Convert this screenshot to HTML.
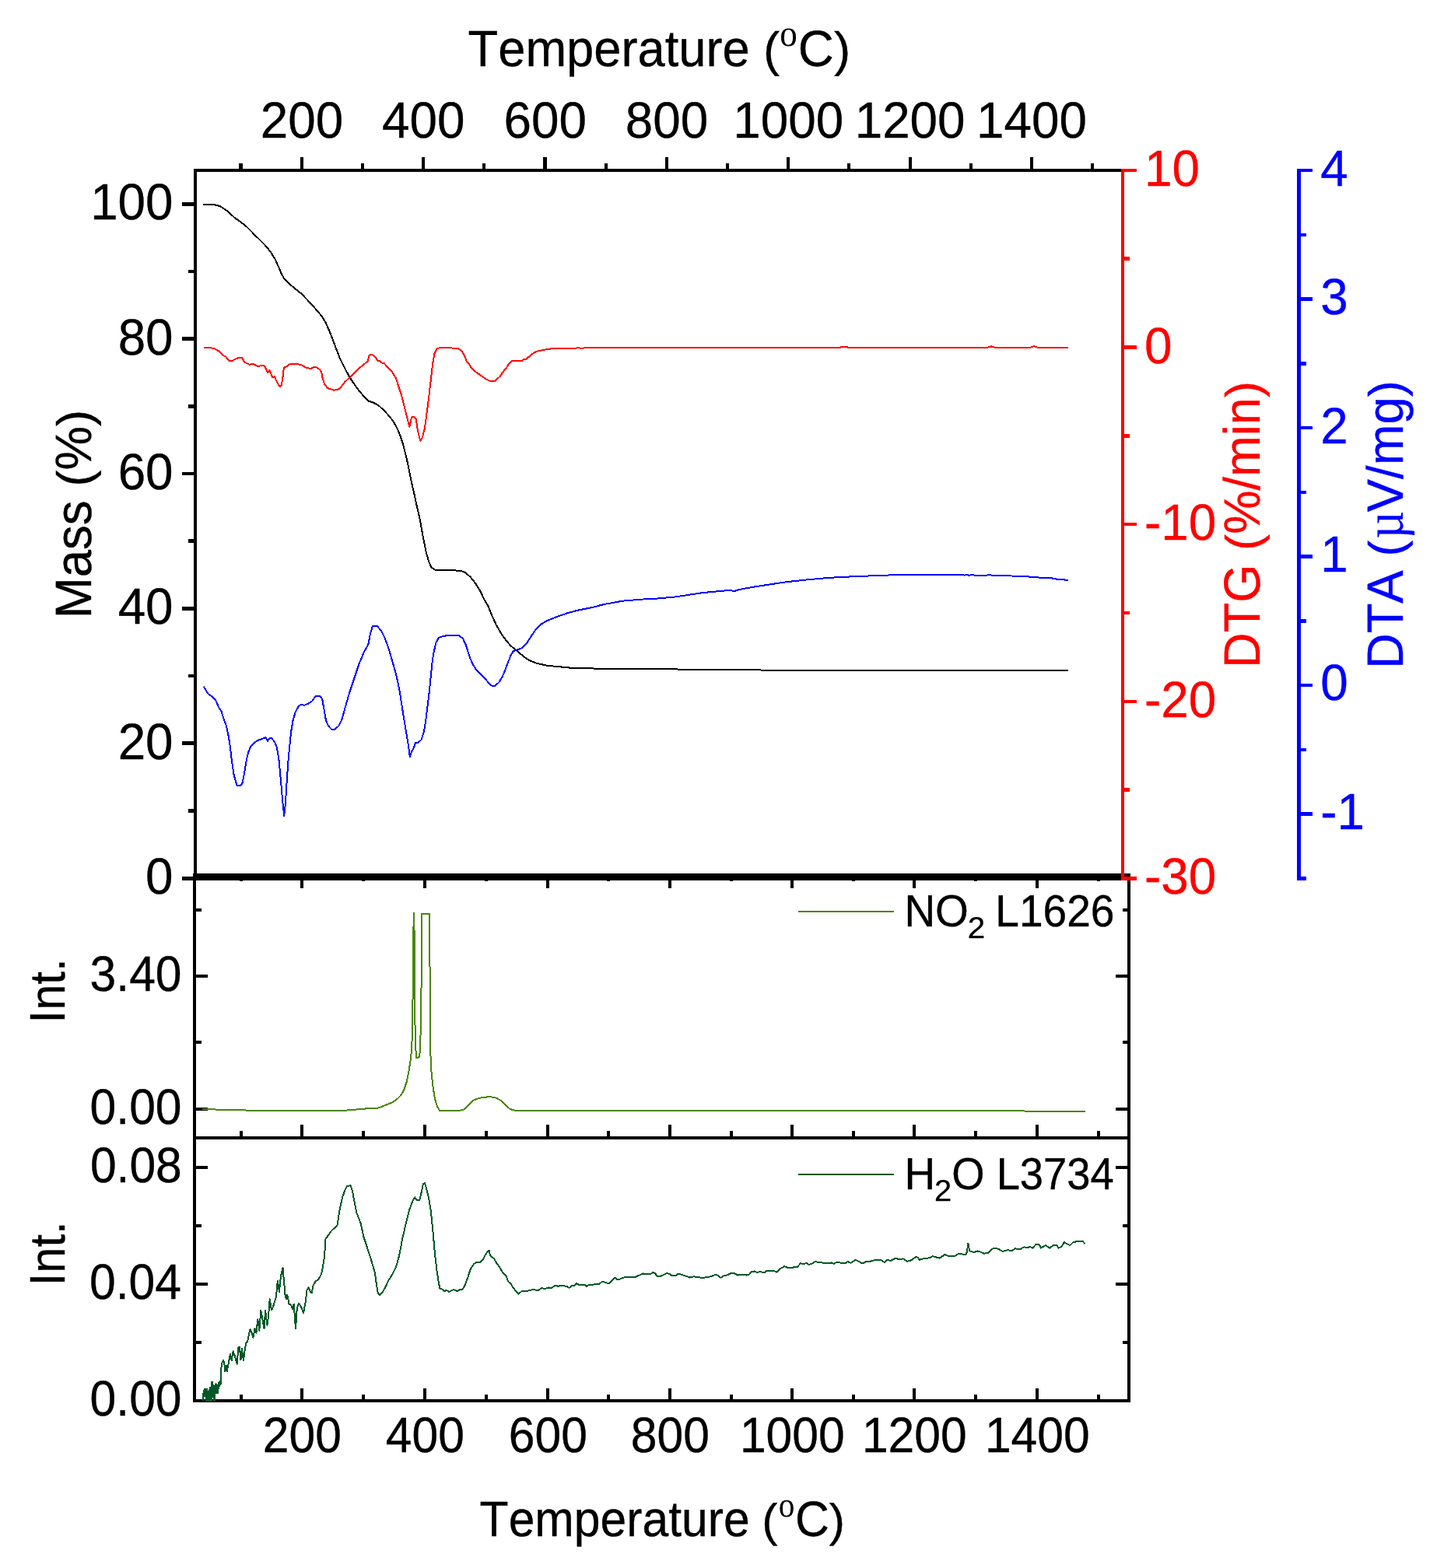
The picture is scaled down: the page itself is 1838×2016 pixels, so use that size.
<!DOCTYPE html>
<html lang="en">
<head>
<meta charset="utf-8">
<title>TG / DTG / DTA with evolved gas intensity</title>
<style>
html, body { margin: 0; padding: 0; background: #fff; }
body { width: 1838px; height: 2016px; overflow: hidden; }
svg { display: block; }
text.sf { font-family: "Liberation Serif", serif; }
text { font-family: "Liberation Sans", sans-serif; white-space: pre; font-kerning: none; font-variant-ligatures: none; text-rendering: geometricPrecision; }
</style>
</head>
<body>
<svg width="1838" height="2016" viewBox="0 0 1838 2016">
<rect x="0" y="0" width="1838" height="2016" fill="#fff"/>
<g id="axes" shape-rendering="crispEdges">
<rect x="249" y="217" width="1192" height="4" fill="#000"/>
<rect x="249" y="217" width="4" height="910" fill="#000"/>
<rect x="248" y="1123" width="1205" height="9" fill="#000"/>
<rect x="307" y="210" width="5" height="7" fill="#000"/>
<rect x="386" y="202" width="4" height="15" fill="#000"/>
<rect x="464" y="210" width="4" height="7" fill="#000"/>
<rect x="542" y="202" width="4" height="15" fill="#000"/>
<rect x="620" y="210" width="4" height="7" fill="#000"/>
<rect x="698" y="202" width="5" height="15" fill="#000"/>
<rect x="777" y="210" width="4" height="7" fill="#000"/>
<rect x="855" y="202" width="4" height="15" fill="#000"/>
<rect x="933" y="210" width="4" height="7" fill="#000"/>
<rect x="1011" y="202" width="4" height="15" fill="#000"/>
<rect x="1089" y="210" width="4" height="7" fill="#000"/>
<rect x="1168" y="202" width="4" height="15" fill="#000"/>
<rect x="1246" y="210" width="4" height="7" fill="#000"/>
<rect x="1324" y="202" width="4" height="15" fill="#000"/>
<rect x="1402" y="210" width="4" height="7" fill="#000"/>
<rect x="234" y="1127" width="15" height="5" fill="#000"/>
<rect x="242" y="1040" width="7" height="5" fill="#000"/>
<rect x="234" y="953" width="15" height="5" fill="#000"/>
<rect x="242" y="867" width="7" height="4" fill="#000"/>
<rect x="234" y="780" width="15" height="5" fill="#000"/>
<rect x="242" y="693" width="7" height="5" fill="#000"/>
<rect x="234" y="607" width="15" height="4" fill="#000"/>
<rect x="242" y="520" width="7" height="5" fill="#000"/>
<rect x="234" y="433" width="15" height="5" fill="#000"/>
<rect x="242" y="347" width="7" height="4" fill="#000"/>
<rect x="234" y="260" width="15" height="5" fill="#000"/>
<rect x="248" y="1123" width="4" height="680" fill="#000"/>
<rect x="1449" y="1123" width="4" height="680" fill="#000"/>
<rect x="248" y="1461" width="1205" height="4" fill="#000"/>
<rect x="248" y="1799" width="1205" height="4" fill="#000"/>
<rect x="308" y="1127" width="4" height="6" fill="#000"/>
<rect x="308" y="1454" width="4" height="7" fill="#000"/>
<rect x="308" y="1793" width="4" height="6" fill="#000"/>
<rect x="386" y="1127" width="4" height="15" fill="#000"/>
<rect x="386" y="1446" width="4" height="15" fill="#000"/>
<rect x="386" y="1785" width="4" height="14" fill="#000"/>
<rect x="465" y="1127" width="4" height="6" fill="#000"/>
<rect x="465" y="1454" width="4" height="7" fill="#000"/>
<rect x="465" y="1793" width="4" height="6" fill="#000"/>
<rect x="544" y="1127" width="4" height="15" fill="#000"/>
<rect x="544" y="1446" width="4" height="15" fill="#000"/>
<rect x="544" y="1785" width="4" height="14" fill="#000"/>
<rect x="623" y="1127" width="4" height="6" fill="#000"/>
<rect x="623" y="1454" width="4" height="7" fill="#000"/>
<rect x="623" y="1793" width="4" height="6" fill="#000"/>
<rect x="702" y="1127" width="4" height="15" fill="#000"/>
<rect x="702" y="1446" width="4" height="15" fill="#000"/>
<rect x="702" y="1785" width="4" height="14" fill="#000"/>
<rect x="780" y="1127" width="4" height="6" fill="#000"/>
<rect x="780" y="1454" width="4" height="7" fill="#000"/>
<rect x="780" y="1793" width="4" height="6" fill="#000"/>
<rect x="859" y="1127" width="4" height="15" fill="#000"/>
<rect x="859" y="1446" width="4" height="15" fill="#000"/>
<rect x="859" y="1785" width="4" height="14" fill="#000"/>
<rect x="938" y="1127" width="4" height="6" fill="#000"/>
<rect x="938" y="1454" width="4" height="7" fill="#000"/>
<rect x="938" y="1793" width="4" height="6" fill="#000"/>
<rect x="1016" y="1127" width="4" height="15" fill="#000"/>
<rect x="1016" y="1446" width="4" height="15" fill="#000"/>
<rect x="1016" y="1785" width="4" height="14" fill="#000"/>
<rect x="1095" y="1127" width="4" height="6" fill="#000"/>
<rect x="1095" y="1454" width="4" height="7" fill="#000"/>
<rect x="1095" y="1793" width="4" height="6" fill="#000"/>
<rect x="1173" y="1127" width="4" height="15" fill="#000"/>
<rect x="1173" y="1446" width="4" height="15" fill="#000"/>
<rect x="1173" y="1785" width="4" height="14" fill="#000"/>
<rect x="1252" y="1127" width="4" height="6" fill="#000"/>
<rect x="1252" y="1454" width="4" height="7" fill="#000"/>
<rect x="1252" y="1793" width="4" height="6" fill="#000"/>
<rect x="1331" y="1127" width="4" height="15" fill="#000"/>
<rect x="1331" y="1446" width="4" height="15" fill="#000"/>
<rect x="1331" y="1785" width="4" height="14" fill="#000"/>
<rect x="1410" y="1127" width="4" height="6" fill="#000"/>
<rect x="1410" y="1454" width="4" height="7" fill="#000"/>
<rect x="1410" y="1793" width="4" height="6" fill="#000"/>
<rect x="252" y="1168" width="7" height="4" fill="#000"/>
<rect x="1443" y="1168" width="6" height="4" fill="#000"/>
<rect x="252" y="1253" width="15" height="4" fill="#000"/>
<rect x="1434" y="1253" width="15" height="4" fill="#000"/>
<rect x="252" y="1338" width="7" height="4" fill="#000"/>
<rect x="1443" y="1338" width="6" height="4" fill="#000"/>
<rect x="252" y="1424" width="15" height="4" fill="#000"/>
<rect x="1434" y="1424" width="15" height="4" fill="#000"/>
<rect x="252" y="1499" width="15" height="4" fill="#000"/>
<rect x="1434" y="1499" width="15" height="4" fill="#000"/>
<rect x="252" y="1574" width="7" height="4" fill="#000"/>
<rect x="1443" y="1574" width="6" height="4" fill="#000"/>
<rect x="252" y="1649" width="15" height="4" fill="#000"/>
<rect x="1434" y="1649" width="15" height="4" fill="#000"/>
<rect x="252" y="1724" width="7" height="4" fill="#000"/>
<rect x="1443" y="1724" width="6" height="4" fill="#000"/>
<rect x="1441" y="217" width="4" height="915" fill="#f00"/>
<rect x="1445" y="217" width="16" height="4" fill="#f00"/>
<rect x="1445" y="330" width="7" height="5" fill="#f00"/>
<rect x="1445" y="444" width="16" height="5" fill="#f00"/>
<rect x="1445" y="558" width="7" height="5" fill="#f00"/>
<rect x="1445" y="672" width="16" height="4" fill="#f00"/>
<rect x="1445" y="786" width="7" height="4" fill="#f00"/>
<rect x="1445" y="900" width="16" height="4" fill="#f00"/>
<rect x="1445" y="1013" width="7" height="5" fill="#f00"/>
<rect x="1445" y="1127" width="16" height="5" fill="#f00"/>
<rect x="1667" y="217" width="5" height="915" fill="#00f"/>
<rect x="1672" y="217" width="15" height="4" fill="#00f"/>
<rect x="1672" y="300" width="7" height="4" fill="#00f"/>
<rect x="1672" y="382" width="15" height="5" fill="#00f"/>
<rect x="1672" y="465" width="7" height="5" fill="#00f"/>
<rect x="1672" y="548" width="15" height="4" fill="#00f"/>
<rect x="1672" y="631" width="7" height="4" fill="#00f"/>
<rect x="1672" y="713" width="15" height="5" fill="#00f"/>
<rect x="1672" y="796" width="7" height="5" fill="#00f"/>
<rect x="1672" y="879" width="15" height="4" fill="#00f"/>
<rect x="1672" y="962" width="7" height="4" fill="#00f"/>
<rect x="1672" y="1044" width="15" height="5" fill="#00f"/>
<rect x="1672" y="1127" width="7" height="5" fill="#00f"/>
<rect x="1026" y="1171" width="123" height="2" fill="#4a850a"/>
<rect x="1026" y="1509" width="123" height="2" fill="#005826"/>
</g>
<g id="curves" shape-rendering="crispEdges">
<polyline points="261.1,262.7 274.8,263.1 282.6,265 291.8,270.9 301.6,280 308.8,285 316.6,291.1 328.3,302.9 340.1,314.6 347.3,323.1 353.8,333.6 358.4,344 362.3,353.2 365.6,358.6 374.1,366.9 387.1,377.3 400.2,391 413.2,406 418.5,414.5 423.7,426.3 430.2,443.3 437.1,461.3 443.6,474.4 450.1,486.2 455.4,494 460.6,501.2 467.1,509 473.6,515.5 480.2,517.8 486.7,521.4 493.2,527.3 499.8,534.5 505,541 510.2,550.1 514.1,559.3 518,571 522,586.7 525.2,601.1 528.5,618 532.4,635 536.3,653.3 539.6,667 543.5,689.2 547.4,708.8 551.3,722.5 554.6,729.7 559.2,732.7 578.8,733.1 591.8,733.8 598.3,736.2 604.9,742.1 611.4,750.5 617.9,761 621.9,770.1 627.1,778.6 631,788.4 637.5,802.8 644.1,814.5 650.6,823.7 657.1,830.9 663.6,836.1 672.8,843.9 680.6,849.1 689.8,852.8 702.8,855.7 722.4,857.6 735.5,858.9 760,858.9 763.9,859.8 852.7,860.3 951.9,861.4 1070,861.9 1373,861.9" fill="none" stroke="#000000" stroke-width="2" stroke-linejoin="round"/>
<polyline points="261.5,446.9 269.6,446.9 276.1,448.5 282.6,452.1 285.9,456.3 289.8,458.3 295.1,463.9 298.3,464.2 302.2,461.8 306.2,460.2 311.4,460.2 314,465.5 317.9,467.4 320.5,468.7 325.7,468.1 331,470.7 339.8,470.2 342.4,475.1 344.1,479.4 346.3,476 348.3,480.3 350.2,485.5 352.9,484.2 355.5,490.1 358.1,495.3 359.8,497.2 361.6,495.9 363.3,486.2 365,472.4 369.2,471.1 372.4,468.1 382.2,468.1 387.5,469.2 392.7,472.4 396.6,473.5 400.5,473.5 403.8,472 407,472.4 411,475.1 413.2,478.3 414.9,487.5 417.5,494.6 421.4,499.2 425.3,500.3 428.6,501.6 433.2,501.2 437.1,499.2 443.6,490.7 450.1,484.8 460.6,474.4 468.4,467.9 473,464.2 474,458.1 476.3,456.1 478.9,456.5 482.8,459.4 485.4,463.7 488,464.2 491.3,466.6 493.9,467.2 498.5,472.4 503.7,477.7 508.9,486.2 512.2,496.6 516.1,508.3 519.3,521.4 522.6,534.5 526.3,548.6 527.8,542.3 529.1,536.4 531.1,535.5 534.8,539 536.3,550.1 538.9,561.9 540.6,566.9 542.8,562.5 545.5,552.7 548.1,534.5 550.7,514.9 553.3,492.7 555.9,469.2 557.9,457.4 558.5,454.6 561.8,448.1 565.7,447.2 578.1,447.4 588.5,447.8 593.1,450.7 597,457.2 600.3,465.7 602.9,467.7 606.2,473.5 610.1,477.2 617.9,482.7 624.4,487.2 630.3,490.3 636.2,489.6 642.7,484 646.6,478.1 650.5,473.5 653.8,468.3 657.7,464 662.3,464.4 671.4,463.7 673.4,462 676,462.4 678.6,458.9 680.6,458.5 683.8,455.3 689.1,452 696.3,450.4 704.1,449 712.6,447.8 740.7,447.7 743.3,446.8 745.9,447.8 751.1,447.4 790,447 900,446.8 1080,446.6 1085,445.6 1090,446.6 1270,446.5 1274,445.4 1278,446.5 1325,446.5 1329,445.2 1333,446.5 1373.5,446.6" fill="none" stroke="#ff0000" stroke-width="2" stroke-linejoin="round"/>
<polyline points="261.8,882.9 267.6,892.1 274.8,897.3 278.1,901.9 281.3,909.7 284.6,914.9 287.9,925.4 290.7,932.5 293.7,946.3 295.7,959.3 297.7,976.3 300.3,994.6 302.2,1002.4 304.8,1010.2 308.8,1010.5 311.4,1007 313.3,998.5 315.3,986.7 317.2,975 319.9,965.2 322.5,959.3 325.7,956 331,952.1 336.2,950.2 341.4,948.2 344,952.8 346.6,949.3 349.2,949.3 353.2,954.1 355.8,960.6 358.4,976.3 360.3,995.9 362.3,1019.4 363.6,1033.7 365.2,1048.8 366.9,1033.7 368.2,1011.5 370.1,982.8 372.1,960.6 374.1,941 376.7,925.4 379.9,914.9 384.5,907.1 388.4,905.8 391,907.1 396.3,904.5 401.5,901.2 405.4,895.3 411.9,895.3 414.3,899.2 416.5,912.3 419.1,926.7 422.4,933.8 426.3,937.8 430.2,937.8 435.4,933.2 439.3,925.4 443.3,911 448.5,892.7 455,873.1 461.5,853.5 468.1,837.9 473.3,828.7 476,814.8 478.9,805.1 484.9,805.1 489.8,810.8 494.8,820.8 499.8,834.6 504.7,851.5 509.7,869.4 513.7,889.2 517.6,914 521.6,938.8 524.6,956.7 526.3,968.6 526.7,973 529.5,965.6 532,961.1 534,955.2 537.5,954.7 541.4,951.2 544.4,942.8 546.9,928.9 549.4,909 551.8,889.2 553.8,869.4 555.8,849.5 557.8,837.6 560.3,826.7 563.8,819.8 569.2,818.1 575.2,817 590,817 595,821.2 599,829.7 603.9,845.6 607.5,853.7 611.4,860.2 619.2,868.1 625.8,875.3 631.6,881.5 636.2,881.8 641.4,877.2 645.4,870.7 649.3,861.5 653.2,851.1 656.5,842.6 659.7,837.4 664.9,835.4 670.2,833.5 676.7,827.6 683.2,817.1 689.8,808 696.3,802.1 702.8,798.2 715.9,793 728.9,788.4 742,784.8 760,781.2 776.1,777.1 800.5,772.6 826.6,770.5 844,769.6 868.4,767.4 903.2,762.1 931.1,759.5 940.6,759.2 942.9,760.4 950.2,758 967.6,754.8 990.3,751.3 1011.1,748.2 1039,745.2 1063.4,743 1075.7,742.3 1103.5,740.9 1133.1,740 1154,738.8 1237.6,738.8 1239.3,739.8 1242.8,738.8 1245.4,739.8 1249.8,738.8 1253.2,739.8 1268,739.8 1270.7,738.8 1275.9,739.8 1300.3,740.5 1324.6,741.6 1338.6,742.8 1352.5,743.5 1359.4,744.9 1369.9,745.6 1373,746.1" fill="none" stroke="#0000ff" stroke-width="2" stroke-linejoin="round"/>
<polyline points="260.4,1426 300,1427.2 350,1428.2 420,1428.3 440,1428 458.4,1426.5 474,1425.1 486.7,1424.5 496.6,1420.5 503.7,1417.7 510.7,1412.8 515,1408.5 519.2,1401.4 522.8,1390.8 525.6,1376.7 527.7,1362.5 529.1,1349.8 530,1326.7 530.4,1298.9 531.1,1215.6 531.8,1174.3 532.2,1174.3 532.8,1215.6 533.2,1298.9 533.9,1340.6 535.1,1360.4 539,1359 540.2,1348.4 541.1,1298.9 541.9,1243.3 542.2,1175 552.2,1175 552.5,1243.3 552.9,1298.9 553.2,1351.2 554.3,1375.3 556,1393.7 558.8,1412 561.7,1422 565.2,1428 590,1428 597,1426.2 604.1,1419.1 608.3,1414.9 615.4,1412 623.9,1410.6 631,1410.2 638,1411.8 643.7,1414.9 649.4,1420.5 655,1425.5 659.3,1427.3 666.3,1428.3 700,1428.5 900,1428.4 1300,1428.4 1395.2,1429" fill="none" stroke="#4a850a" stroke-width="2" stroke-linejoin="round"/>
<polyline points="261.2,1801 261.2,1792.5 262.8,1786 262.8,1795 264.5,1786.5 264.5,1801 266,1801 266,1785.5 267.5,1792 267.5,1801 269,1801 269,1787 270.3,1784 270.3,1801 271.8,1801 271.8,1776.5 273.2,1777.5 273.2,1796 274.6,1781.5 274.6,1801 276.2,1801 276.2,1782.5 277.5,1779.5 277.5,1791.5 278.6,1780 278.6,1788 280,1780.5 280,1791.5 281.3,1777.5 281.3,1784.5 282.5,1776.5 282.5,1781 283.8,1779 284.5,1758.4 285.3,1752.2 287,1749.1 288.2,1751.6 289.4,1763.4 290.9,1755.9 291.9,1762.8 294,1751 296.1,1740.4 297.7,1749.1 299.6,1737.3 301.5,1742.3 304.6,1753.5 306.4,1732.4 307.7,1731.8 309.5,1748.5 310.8,1733.6 313,1749.1 314.5,1737.3 316.3,1726.2 318.2,1724.9 320.1,1715 321.3,1709.4 323.2,1712.5 325.4,1720 327.5,1708.2 329.4,1713.8 331.2,1696.4 333.3,1710.7 335.3,1684.6 337.4,1696.4 339.5,1708.2 341.1,1684.6 343.3,1703.8 344.9,1693.9 346.7,1670.4 349,1684.6 351.1,1679.7 354.8,1667.9 356.9,1646.8 358.9,1661.1 361,1640.6 363.5,1630.1 364.7,1644.3 366.6,1665.4 367.8,1670.4 369.3,1664.8 371.5,1676.6 374,1677.8 375.9,1683.4 377.7,1676.6 380,1708.2 381.7,1682.8 383.9,1675.9 386.4,1679 390.1,1687.7 392.6,1674.1 394.5,1659.2 396.6,1654.9 398.8,1661.1 400.7,1662.3 402.5,1653 405.6,1647.4 408.7,1645.6 412.5,1639.4 413.9,1634.9 416.5,1619.3 417.8,1604.9 418.5,1593.2 425.7,1582.7 433.5,1575.5 436.1,1557.9 440,1539.6 443.3,1530.5 445.9,1525 450.5,1524.2 453.1,1531.8 455.7,1546.2 458.3,1559.2 463.5,1572.3 467.5,1590.5 471.4,1602.3 475.3,1614.1 479.2,1627.1 481.8,1635.6 483.8,1650.6 485.7,1662.4 488.3,1665 491,1662.4 494.9,1655.8 498.8,1647.4 504,1638.9 509.2,1628.4 513.2,1614.1 517.1,1593.2 521,1576.2 526.2,1555.3 530.1,1544.8 533.1,1539.4 535.4,1542.9 539.3,1542.9 541.9,1531.8 543.8,1522.6 545.8,1520.7 548.4,1529.2 551,1539.6 553.6,1555.3 556.3,1581.4 558.9,1611.4 561.5,1633.6 564.1,1650.6 565.4,1656.5 568.7,1657.8 571.3,1660.4 573.9,1658.8 577.1,1660.8 583,1658.1 587.6,1660 590.9,1658.2 593.5,1658.5 596.7,1654.5 600.7,1644.1 604.6,1632.3 608.5,1625.8 611.7,1623.2 617.6,1622.5 620.9,1619.3 624.2,1612.7 627.4,1608.2 628.7,1607.9 630,1614.1 635.3,1618.6 638.5,1624.5 640,1626.1 645.7,1635.3 650.6,1640.9 653.4,1648 657,1650.8 659.1,1655.1 662.6,1659.3 666.2,1663.6 670.4,1660.3 681,1659.3 683.9,1658.2 692.3,1658.9 695.9,1656.2 700.8,1656.8 705.1,1655.4 708.6,1656.2 712.9,1653 717.8,1653.7 722,1652.7 728.4,1653.9 731.7,1655.8 735.1,1653 739,1652.5 740.9,1650.1 744.7,1652.2 751.8,1651.5 753.9,1653.7 757.4,1651.8 770.1,1651.1 773.7,1648 777.9,1648.7 782.9,1650.5 787.1,1645.9 790.2,1642.6 792.8,1645.2 797,1644.5 800.6,1642.6 812.6,1641.9 816.8,1641.9 821.8,1639.5 826,1637.4 831,1638.4 835.2,1638.4 839.5,1636 842.3,1637.4 844.4,1640.6 848,1641.2 852.2,1639.5 857.1,1637 860.7,1638.1 864.2,1640.5 868.5,1640.2 872,1637.4 877.7,1639.5 881.9,1640.9 886.9,1642.6 891.8,1641.2 895.7,1642.1 903.4,1642.9 914,1641.2 919,1639 922.5,1639.6 926.5,1642.9 930.3,1640.3 935.3,1639.3 939.5,1636.8 943.8,1637.2 948.7,1639.6 954.4,1638.6 959.3,1639.6 962.9,1638.6 965.7,1635.5 969.2,1634.4 972.8,1635.8 977.7,1635.1 982,1636.5 984.8,1634.4 995.4,1634.1 998.6,1635.8 1003.2,1631.1 1008.1,1628.3 1014.5,1630.5 1021.6,1629.1 1025.1,1628.7 1029.3,1624 1031.5,1625.2 1037.1,1624 1039.7,1625.9 1044.2,1624.5 1047.7,1622.1 1056.9,1623.5 1065.4,1624.5 1068.2,1623.3 1071.8,1624.9 1075.3,1622.6 1079.6,1623.5 1085.9,1624.5 1089.5,1622.1 1093.7,1623.8 1099.6,1619.9 1103.6,1621.9 1108.6,1624.5 1112.8,1622.3 1119.2,1621.6 1124.8,1619.9 1132.6,1620.2 1136.9,1623 1139.7,1619.8 1144.6,1620.9 1151.3,1617.7 1156.3,1619.4 1160.5,1618.3 1166.2,1621.8 1171.8,1620.1 1176.8,1616.2 1179.6,1616.6 1181.7,1619.7 1188.1,1618 1195.2,1617.3 1198.7,1615.2 1203.7,1616.6 1207.9,1617.6 1214.3,1613 1218.5,1614.7 1226.3,1615.5 1232,1611.9 1237.6,1612.6 1241.9,1612.6 1243.3,1608.1 1244,1598.5 1245,1599.6 1245.8,1608.1 1251.8,1610.2 1256.7,1608.4 1260.2,1609.5 1264.5,1611.6 1269.4,1611.2 1273.7,1607.4 1277.2,1604.6 1282.9,1605.6 1288.5,1608.8 1295.6,1607.1 1299.9,1608.5 1304.8,1605.3 1311.2,1606.3 1316.1,1603.4 1321.1,1604.3 1323.9,1602.9 1327.4,1604.6 1331,1600.3 1335.9,1600.3 1338,1604.6 1343.7,1601 1349.4,1604.6 1353.6,1601.3 1357.9,1600.7 1360.7,1604.6 1364.2,1603.1 1367.8,1597.2 1372,1599.6 1375.5,1601 1379.1,1597.5 1384,1596.1 1391.8,1596.1 1394.3,1598.9" fill="none" stroke="#005826" stroke-width="2" stroke-linejoin="round"/>
</g>
<g id="labels">
<text transform="translate(601.58 85.07) scale(0.9917 1.0280)" font-size="63.8" stroke="#000" stroke-width="0.35">Temperature</text>
<text transform="translate(981.08 85.07) scale(0.9917 0.9750)" font-size="63.8" stroke="#000" stroke-width="0.35">(</text>
<text transform="translate(1025.82 85.07) scale(1.0003 1.0280)" font-size="63.8" stroke="#000" stroke-width="0.35">C</text>
<text transform="translate(1071.91 85.07) scale(1.0003 0.9750)" font-size="63.8" stroke="#000" stroke-width="0.35">)</text>
<text transform="translate(1002.23 59.49) scale(1.1266 1.1945)" font-size="40" class="sf">o</text>
<text transform="translate(616.61 1975.07) scale(1.0004 1.0570)" font-size="60.6" stroke="#000" stroke-width="0.35">Temperature</text>
<text transform="translate(979.14 1975.07) scale(1.0004 0.9750)" font-size="60.6" stroke="#000" stroke-width="0.35">(</text>
<text transform="translate(1021.92 1975.07) scale(1.0016 1.0570)" font-size="60.6" stroke="#000" stroke-width="0.35">C</text>
<text transform="translate(1065.75 1975.07) scale(1.0016 0.9750)" font-size="60.6" stroke="#000" stroke-width="0.35">)</text>
<text transform="translate(1000.83 1950.26) scale(1.0323 1.1228)" font-size="40" class="sf">o</text>
<text transform="translate(334.76 177.10) scale(1.0000 1.0280)" font-size="63.8" stroke="#000" stroke-width="0.35">200</text>
<text transform="translate(337.75 1867.10) scale(1.0000 1.0570)" font-size="60.6" stroke="#000" stroke-width="0.35">200</text>
<text transform="translate(491.09 177.10) scale(1.0000 1.0280)" font-size="63.8" stroke="#000" stroke-width="0.35">400</text>
<text transform="translate(495.75 1867.10) scale(1.0000 1.0570)" font-size="60.6" stroke="#000" stroke-width="0.35">400</text>
<text transform="translate(647.42 177.10) scale(1.0000 1.0280)" font-size="63.8" stroke="#000" stroke-width="0.35">600</text>
<text transform="translate(653.75 1867.10) scale(1.0000 1.0570)" font-size="60.6" stroke="#000" stroke-width="0.35">600</text>
<text transform="translate(803.75 177.10) scale(1.0000 1.0280)" font-size="63.8" stroke="#000" stroke-width="0.35">800</text>
<text transform="translate(810.75 1867.10) scale(1.0000 1.0570)" font-size="60.6" stroke="#000" stroke-width="0.35">800</text>
<text transform="translate(942.33 177.10) scale(1.0000 1.0280)" font-size="63.8" stroke="#000" stroke-width="0.35">1000</text>
<text transform="translate(950.89 1867.10) scale(1.0000 1.0570)" font-size="60.6" stroke="#000" stroke-width="0.35">1000</text>
<text transform="translate(1098.66 177.10) scale(1.0000 1.0280)" font-size="63.8" stroke="#000" stroke-width="0.35">1200</text>
<text transform="translate(1107.89 1867.10) scale(1.0000 1.0570)" font-size="60.6" stroke="#000" stroke-width="0.35">1200</text>
<text transform="translate(1254.99 177.10) scale(1.0000 1.0280)" font-size="63.8" stroke="#000" stroke-width="0.35">1400</text>
<text transform="translate(1265.89 1867.10) scale(1.0000 1.0570)" font-size="60.6" stroke="#000" stroke-width="0.35">1400</text>
<text transform="translate(187.11 1149.10) scale(1.0000 1.0280)" font-size="63.8" stroke="#000" stroke-width="0.35">0</text>
<text transform="translate(151.63 975.70) scale(1.0000 1.0280)" font-size="63.8" stroke="#000" stroke-width="0.35">20</text>
<text transform="translate(151.63 802.30) scale(1.0000 1.0280)" font-size="63.8" stroke="#000" stroke-width="0.35">40</text>
<text transform="translate(151.63 628.90) scale(1.0000 1.0280)" font-size="63.8" stroke="#000" stroke-width="0.35">60</text>
<text transform="translate(151.63 455.50) scale(1.0000 1.0280)" font-size="63.8" stroke="#000" stroke-width="0.35">80</text>
<text transform="translate(116.14 282.10) scale(1.0000 1.0280)" font-size="63.8" stroke="#000" stroke-width="0.35">100</text>
<text transform="translate(1471.00 239.00) scale(1.0000 1.0280)" font-size="63.8" fill="#f00" stroke="#f00" stroke-width="0.35">10</text>
<text transform="translate(1471.00 466.50) scale(1.0000 1.0280)" font-size="63.8" fill="#f00" stroke="#f00" stroke-width="0.35">0</text>
<text transform="translate(1471.00 694.00) scale(1.0000 1.0280)" font-size="63.8" fill="#f00" stroke="#f00" stroke-width="0.35">-10</text>
<text transform="translate(1471.00 921.50) scale(1.0000 1.0280)" font-size="63.8" fill="#f00" stroke="#f00" stroke-width="0.35">-20</text>
<text transform="translate(1471.00 1149.00) scale(1.0000 1.0280)" font-size="63.8" fill="#f00" stroke="#f00" stroke-width="0.35">-30</text>
<text transform="translate(1697.30 238.60) scale(1.0000 1.0280)" font-size="63.8" fill="#00f" stroke="#00f" stroke-width="0.35">4</text>
<text transform="translate(1697.30 404.05) scale(1.0000 1.0280)" font-size="63.8" fill="#00f" stroke="#00f" stroke-width="0.35">3</text>
<text transform="translate(1697.30 569.50) scale(1.0000 1.0280)" font-size="63.8" fill="#00f" stroke="#00f" stroke-width="0.35">2</text>
<text transform="translate(1697.30 734.95) scale(1.0000 1.0280)" font-size="63.8" fill="#00f" stroke="#00f" stroke-width="0.35">1</text>
<text transform="translate(1697.30 900.40) scale(1.0000 1.0280)" font-size="63.8" fill="#00f" stroke="#00f" stroke-width="0.35">0</text>
<text transform="translate(1697.30 1065.85) scale(1.0000 1.0280)" font-size="63.8" fill="#00f" stroke="#00f" stroke-width="0.35">-1</text>
<text transform="translate(117.00 795.27) rotate(-90) scale(0.9964 1.0280)" font-size="63.8" stroke="#000" stroke-width="0.35">Mass</text>
<text transform="translate(117.00 625.73) rotate(-90) scale(0.9964 0.9750)" font-size="63.8" stroke="#000" stroke-width="0.35">(</text>
<text transform="translate(117.00 604.56) rotate(-90) scale(0.9964 1.0280)" font-size="63.8" stroke="#000" stroke-width="0.35">%</text>
<text transform="translate(117.00 548.03) rotate(-90) scale(0.9964 0.9750)" font-size="63.8" stroke="#000" stroke-width="0.35">)</text>
<text transform="translate(1619.00 858.99) rotate(-90) scale(0.9916 1.0280)" font-size="63.8" fill="#f00" stroke="#f00" stroke-width="0.35">DTG</text>
<text transform="translate(1619.00 707.88) rotate(-90) scale(0.9916 0.9750)" font-size="63.8" fill="#f00" stroke="#f00" stroke-width="0.35">(</text>
<text transform="translate(1619.00 686.81) rotate(-90) scale(0.9916 1.0280)" font-size="63.8" fill="#f00" stroke="#f00" stroke-width="0.35">%/min</text>
<text transform="translate(1619.00 511.04) rotate(-90) scale(0.9916 0.9750)" font-size="63.8" fill="#f00" stroke="#f00" stroke-width="0.35">)</text>
<text transform="translate(1802.65 860.10) rotate(-90) scale(0.9929 1.0280)" font-size="63.8" fill="#00f" stroke="#00f" stroke-width="0.35">DTA</text>
<text transform="translate(1802.65 715.81) rotate(-90) scale(0.9929 0.9750)" font-size="63.8" fill="#00f" stroke="#00f" stroke-width="0.35">(</text>
<text transform="translate(1802.65 692.85) rotate(-90) scale(0.9710 1.1100)" font-size="63.8" fill="#00f" class="sf">µ</text>
<text transform="translate(1802.65 658.21) rotate(-90) scale(0.9929 1.0280)" font-size="63.8" fill="#00f" stroke="#00f" stroke-width="0.35">V/mg</text>
<text transform="translate(1802.65 510.37) rotate(-90) scale(0.9929 0.9750)" font-size="63.8" fill="#00f" stroke="#00f" stroke-width="0.35">)</text>
<text transform="translate(115.62 1274.05) scale(1.0000 1.0570)" font-size="60.6" stroke="#000" stroke-width="0.35">3.40</text>
<text transform="translate(115.62 1445.05) scale(1.0000 1.0570)" font-size="60.6" stroke="#000" stroke-width="0.35">0.00</text>
<text transform="translate(115.89 1520.05) scale(1.0000 1.0570)" font-size="60.6" stroke="#000" stroke-width="0.35">0.08</text>
<text transform="translate(115.03 1670.05) scale(1.0000 1.0570)" font-size="60.6" stroke="#000" stroke-width="0.35">0.04</text>
<text transform="translate(115.62 1820.05) scale(1.0000 1.0570)" font-size="60.6" stroke="#000" stroke-width="0.35">0.00</text>
<text transform="translate(83.04 1315.41) rotate(-90) scale(0.9851 1.0570)" font-size="60.6" stroke="#000" stroke-width="0.35">Int.</text>
<text transform="translate(83.04 1653.36) rotate(-90) scale(0.9844 1.0570)" font-size="60.6" stroke="#000" stroke-width="0.35">Int.</text>
<text transform="translate(1162.39 1191.10) scale(1.0000 1.0500)" font-size="55" stroke="#000" stroke-width="0.35">NO</text>
<text transform="translate(1243.87 1206.00) scale(1.1189 1.0713)" font-size="36" stroke="#000" stroke-width="0.35">2</text>
<text transform="translate(1279.33 1191.10) scale(1.0009 1.0500)" font-size="55" stroke="#000" stroke-width="0.35">L1626</text>
</g>
<g id="labels2">
<text transform="translate(1162.39 1529.15) scale(1.0000 1.0500)" font-size="55" stroke="#000" stroke-width="0.35">H</text>
<text transform="translate(1201.05 1544.00) scale(1.1067 1.0713)" font-size="36" stroke="#000" stroke-width="0.35">2</text>
<text transform="translate(1223.33 1529.15) scale(0.9870 1.0500)" font-size="55" stroke="#000" stroke-width="0.35">O L3734</text>
</g>
</svg>
</body>
</html>
